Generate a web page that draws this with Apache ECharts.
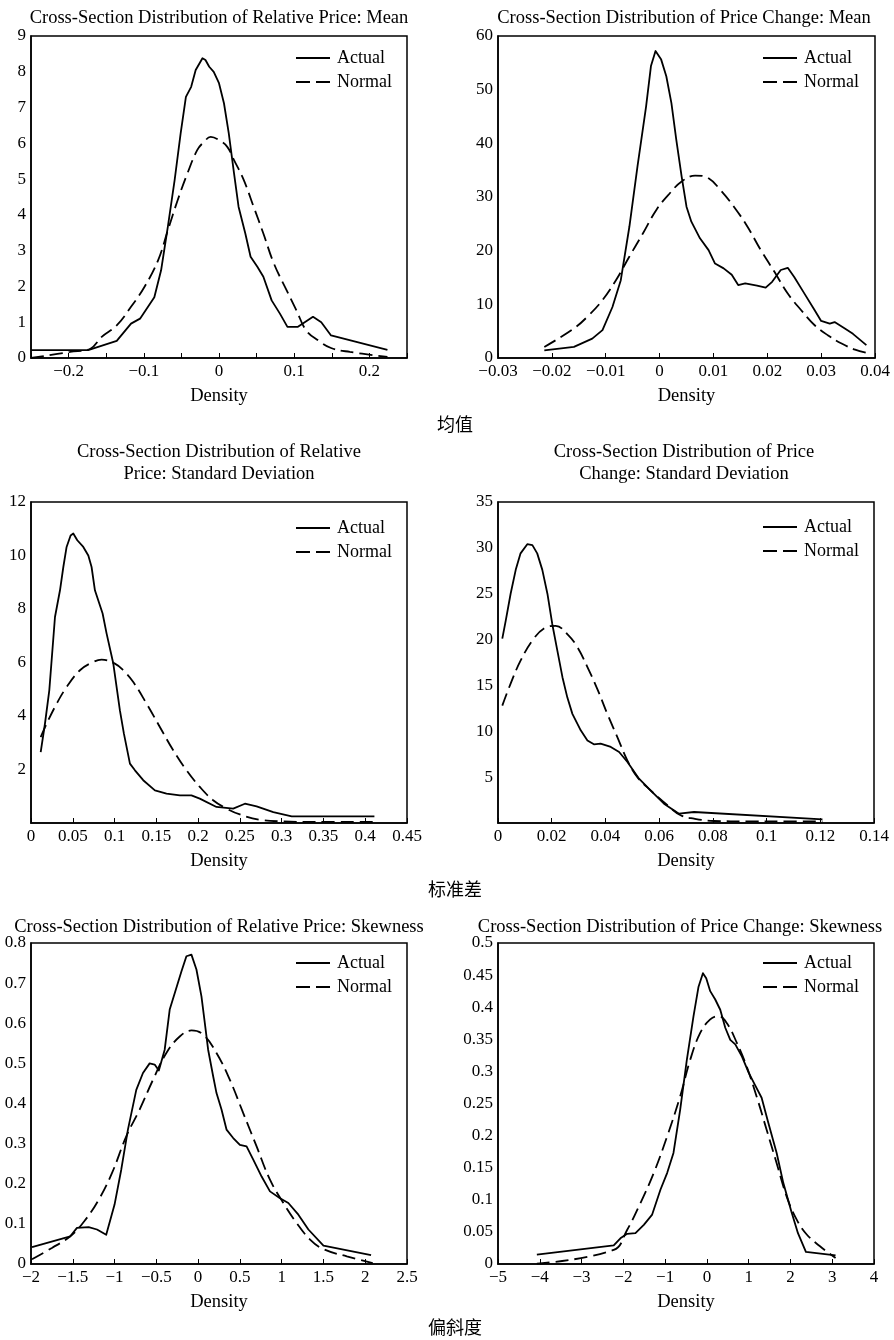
<!DOCTYPE html>
<html><head><meta charset="utf-8">
<script src="https://cdn.jsdelivr.net/npm/echarts@6/dist/echarts.min.js"></script>
<style>html,body{margin:0;padding:0;background:#fff}#c{width:894px;height:1340px}</style>
</head><body><div id="c"></div>
<script>
// ---------- Data (x, density) ----------
const relMeanActual = [[-0.25,0.22],[-0.174,0.22],[-0.136,0.48],[-0.117,0.96],[-0.105,1.1],[-0.086,1.7],[-0.077,2.45],[-0.068,3.67],[-0.059,4.97],[-0.051,6.28],[-0.044,7.3],[-0.037,7.58],[-0.031,8.05],[-0.022,8.38],[-0.018,8.33],[-0.013,8.14],[-0.007,8.0],[0,7.68],[0.0066,7.12],[0.013,6.28],[0.020,5.16],[0.026,4.23],[0.035,3.48],[0.042,2.83],[0.051,2.55],[0.059,2.27],[0.070,1.61],[0.081,1.24],[0.091,0.87],[0.105,0.87],[0.125,1.15],[0.136,1.0],[0.149,0.63],[0.224,0.23]];
const relMeanNormal = [[-0.25,0],[-0.198,0.17],[-0.171,0.26],[-0.156,0.59],[-0.136,0.91],[-0.117,1.43],[-0.099,1.99],[-0.081,2.73],[-0.068,3.57],[-0.055,4.41],[-0.042,5.16],[-0.029,5.81],[-0.020,6.04],[-0.011,6.18],[0,6.09],[0.011,5.9],[0.020,5.53],[0.033,4.97],[0.046,4.23],[0.059,3.48],[0.073,2.64],[0.090,1.89],[0.103,1.33],[0.116,0.77],[0.132,0.49],[0.149,0.28],[0.174,0.17],[0.224,0.03]];

const chgMeanActual = [[-0.0214,1.43],[-0.0159,2.06],[-0.0125,3.6],[-0.0106,5.2],[-0.00875,9.5],[-0.0072,14.5],[-0.0056,24.5],[-0.0041,35.7],[-0.0025,46.9],[-0.0016,54.4],[-0.00075,57.2],[0.0003,55.6],[0.00125,52.5],[0.0022,47.5],[0.0031,40.7],[0.0041,33.8],[0.005,28.2],[0.0059,25.4],[0.0075,22.3],[0.0091,20.1],[0.0103,17.6],[0.0119,16.7],[0.0134,15.5],[0.0146,13.6],[0.0159,13.9],[0.0181,13.5],[0.0197,13.1],[0.0209,14.2],[0.0225,16.4],[0.0238,16.8],[0.025,15.1],[0.0269,12.0],[0.0288,8.9],[0.030,6.9],[0.0316,6.4],[0.0325,6.7],[0.0344,5.5],[0.0359,4.5],[0.0384,2.4]];
const chgMeanNormal = [[-0.0214,2.06],[-0.0159,5.5],[-0.0131,8.0],[-0.0106,10.8],[-0.0081,14.5],[-0.0056,18.9],[-0.0031,23.2],[-0.0006,27.6],[0.0019,30.7],[0.0041,32.9],[0.0066,34.0],[0.0091,33.5],[0.0113,31.3],[0.0138,28.2],[0.0163,24.5],[0.0188,20.1],[0.0213,16.1],[0.0238,12.0],[0.0263,8.9],[0.0288,6.1],[0.0313,4.2],[0.0338,2.7],[0.0363,1.56],[0.0386,0.93]];

const relSdActual = [[0.0116,2.65],[0.0167,3.71],[0.0219,4.96],[0.0287,7.70],[0.0347,8.70],[0.0387,9.57],[0.0426,10.32],[0.0474,10.75],[0.0506,10.82],[0.0554,10.57],[0.0626,10.32],[0.0686,10.0],[0.0725,9.57],[0.0765,8.70],[0.0857,7.83],[0.0905,7.08],[0.0985,5.96],[0.1064,4.21],[0.1112,3.34],[0.1184,2.22],[0.1244,1.97],[0.1343,1.60],[0.1483,1.22],[0.1622,1.10],[0.1782,1.03],[0.192,1.03],[0.202,0.91],[0.222,0.60],[0.242,0.54],[0.256,0.72],[0.270,0.62],[0.290,0.41],[0.312,0.25],[0.411,0.25]];
const relSdNormal = [[0.0116,3.21],[0.0187,3.71],[0.0307,4.46],[0.0426,5.08],[0.0586,5.71],[0.0745,6.02],[0.0845,6.11],[0.1004,5.96],[0.1104,5.71],[0.1224,5.27],[0.1383,4.46],[0.1542,3.59],[0.1702,2.72],[0.1861,1.97],[0.202,1.35],[0.218,0.85],[0.234,0.54],[0.25,0.32],[0.274,0.12],[0.302,0.06],[0.342,0.04],[0.411,0.04]];

const chgSdActual = [[0.0016,20.1],[0.0029,22.1],[0.0047,25.0],[0.0066,27.6],[0.0084,29.4],[0.0109,30.4],[0.0128,30.3],[0.0146,29.4],[0.0165,27.6],[0.0184,25.0],[0.0202,21.7],[0.0221,18.8],[0.024,15.9],[0.0258,13.7],[0.0277,11.9],[0.0308,10.1],[0.0333,9.0],[0.0357,8.58],[0.0382,8.65],[0.042,8.29],[0.0451,7.74],[0.0482,6.65],[0.0525,4.83],[0.0568,3.56],[0.0618,2.11],[0.0674,1.02],[0.073,1.2],[0.1208,0.4]];
const chgSdNormal = [[0.0016,12.8],[0.0047,15.2],[0.0084,17.7],[0.0128,19.9],[0.0171,21.2],[0.0215,21.5],[0.0258,20.6],[0.0295,19.2],[0.0333,17.0],[0.037,14.6],[0.0407,11.9],[0.0444,9.4],[0.0482,6.8],[0.0519,5.0],[0.0568,3.56],[0.0631,1.93],[0.068,0.84],[0.073,0.47],[0.0804,0.22],[0.0928,0.18],[0.1052,0.18],[0.1208,0.18]];

const relSkActual = [[-1.988,0.042],[-1.53,0.069],[-1.45,0.090],[-1.31,0.092],[-1.21,0.086],[-1.10,0.073],[-1.0,0.148],[-0.92,0.235],[-0.84,0.335],[-0.74,0.434],[-0.66,0.476],[-0.58,0.50],[-0.52,0.497],[-0.47,0.482],[-0.40,0.534],[-0.34,0.634],[-0.28,0.675],[-0.20,0.729],[-0.14,0.767],[-0.08,0.771],[-0.02,0.734],[0.04,0.667],[0.08,0.601],[0.12,0.534],[0.18,0.468],[0.22,0.426],[0.28,0.385],[0.34,0.335],[0.42,0.314],[0.50,0.297],[0.58,0.293],[0.66,0.26],[0.76,0.218],[0.86,0.181],[0.98,0.164],[1.08,0.152],[1.20,0.123],[1.32,0.086],[1.50,0.046],[2.07,0.022]];
const relSkNormal = [[-1.988,0.012],[-1.75,0.040],[-1.53,0.069],[-1.35,0.11],[-1.19,0.16],[-1.03,0.227],[-0.86,0.318],[-0.70,0.385],[-0.54,0.459],[-0.38,0.526],[-0.22,0.567],[-0.08,0.582],[0.06,0.572],[0.22,0.526],[0.38,0.459],[0.54,0.376],[0.70,0.293],[0.86,0.21],[1.02,0.152],[1.18,0.102],[1.34,0.061],[1.50,0.037],[1.78,0.019],[2.09,0.002]];

const chgSkActual = [[-4.07,0.0145],[-2.23,0.029],[-2.07,0.040],[-1.91,0.047],[-1.71,0.048],[-1.51,0.061],[-1.31,0.077],[-1.11,0.116],[-0.95,0.142],[-0.80,0.173],[-0.64,0.24],[-0.48,0.318],[-0.32,0.386],[-0.20,0.432],[-0.095,0.453],[-0.016,0.445],[0.08,0.425],[0.20,0.412],[0.32,0.396],[0.44,0.368],[0.56,0.349],[0.68,0.342],[0.84,0.323],[1.0,0.298],[1.15,0.279],[1.31,0.259],[1.47,0.22],[1.67,0.173],[1.83,0.126],[2.02,0.082],[2.18,0.048],[2.37,0.019],[3.08,0.0135]];
const chgSkNormal = [[-4.07,0.0005],[-2.23,0.022],[-1.91,0.053],[-1.59,0.095],[-1.27,0.142],[-0.95,0.199],[-0.64,0.261],[-0.40,0.318],[-0.16,0.36],[0.08,0.381],[0.28,0.386],[0.48,0.375],[0.72,0.344],[0.95,0.308],[1.19,0.261],[1.43,0.209],[1.67,0.157],[1.91,0.105],[2.15,0.069],[2.39,0.046],[2.70,0.028],[3.08,0.0093]];

const panelTitles = [
  'Cross-Section Distribution of Relative Price: Mean',
  'Cross-Section Distribution of Price Change: Mean',
  'Cross-Section Distribution of Relative\nPrice: Standard Deviation',
  'Cross-Section Distribution of Price\nChange: Standard Deviation',
  'Cross-Section Distribution of Relative Price: Skewness',
  'Cross-Section Distribution of Price Change: Skewness'
];
const rowCaptions = ['均值', '标准差', '偏斜度'];
const xName = 'Density';
const legendNames = ['Actual', 'Normal'];

// ---------- Layout ----------
const SERIF = '"Liberation Serif","DejaVu Serif",serif';
const panels = [
  {grid:[31,36,376,322], x:[-0.25,0.25,0.05,0.1], y:[0,9,1,true], title:[219,18], lg:[296,49], a:relMeanActual, n:relMeanNormal},
  {grid:[498,36,377,322], x:[-0.03,0.04,0.01,0.01], y:[0,60,10,true], title:[684,18], lg:[763,49], a:chgMeanActual, n:chgMeanNormal},
  {grid:[31,502,376,321], x:[0,0.45,0.05,0.05], y:[0,12,2,false], title:[219,474], lg:[296,519], a:relSdActual, n:relSdNormal},
  {grid:[498,502,376,321], x:[0,0.14,0.02,0.02], y:[0,35,5,false], title:[684,474], lg:[763,518], a:chgSdActual, n:chgSdNormal},
  {grid:[31,943,376,321], x:[-2,2.5,0.5,0.5], y:[0,0.8,0.1,true], title:[219,927], lg:[296,954], a:relSkActual, n:relSkNormal},
  {grid:[498,943,376,321], x:[-5,4,1,1], y:[0,0.5,0.05,true], title:[680,927], lg:[763,954], a:chgSkActual, n:chgSkNormal}
];

const ICON_SOLID = 'path://M0,0H34V2H0Z';
const ICON_DASH = 'path://M0,0H14V2H0Z M20,0H34V2H20Z';

function fmtNum(v){
  let s = String(+v.toFixed(6));
  return s.replace('-', '\u2212');
}

const grid = [], xAxis = [], yAxis = [], series = [], legend = [], graphic = [];
panels.forEach((p, i) => {
  grid.push({left:p.grid[0], top:p.grid[1], width:p.grid[2], height:p.grid[3],
    show:true, borderColor:'#000', borderWidth:1.5, backgroundColor:'transparent'});
  const step = p.x[3];
  xAxis.push({type:'value', gridIndex:i, min:p.x[0], max:p.x[1], interval:p.x[2],
    name:xName, nameLocation:'middle', nameGap:29,
    nameTextStyle:{fontFamily:SERIF, fontSize:18.5, color:'#000'},
    axisLine:{show:true, onZero:false, lineStyle:{color:'#000', width:1.5}},
    axisTick:{show:true, inside:true, length:5, lineStyle:{color:'#000', width:1}},
    splitLine:{show:false},
    axisLabel:{fontFamily:SERIF, fontSize:17, color:'#000', margin:5, showMinLabel:true, showMaxLabel:true,
      formatter:(v)=>{ const r=v/step; return Math.abs(r-Math.round(r))<1e-6 ? fmtNum(v) : ''; }}
  });
  const showZero = p.y[3];
  yAxis.push({type:'value', gridIndex:i, min:p.y[0], max:p.y[1], interval:p.y[2],
    axisLine:{show:true, onZero:false, lineStyle:{color:'#000', width:1.5}},
    axisTick:{show:false}, splitLine:{show:false},
    axisLabel:{fontFamily:SERIF, fontSize:17, color:'#000', margin:5, showMinLabel:true, showMaxLabel:true,
      formatter:(v)=> (!showZero && Math.abs(v)<1e-9) ? '' : fmtNum(v)}
  });
  series.push({type:'line', name:legendNames[0], xAxisIndex:i, yAxisIndex:i, data:p.a,
    symbol:'none', smooth:false, lineStyle:{color:'#000', width:1.8, type:'solid', join:'round'}, itemStyle:{color:'#000'}, z:3});
  series.push({type:'line', name:legendNames[1], xAxisIndex:i, yAxisIndex:i, data:p.n,
    symbol:'none', smooth:0.4, lineStyle:{color:'#000', width:1.8, type:[13,6]}, itemStyle:{color:'#000'}, z:2});
  legend.push({orient:'vertical', left:p.lg[0], top:p.lg[1], padding:0, itemGap:6,
    itemWidth:34, itemHeight:2,
    data:[{name:legendNames[0], icon:ICON_SOLID}, {name:legendNames[1], icon:ICON_DASH}],
    selectedMode:false, itemStyle:{color:'#000', borderWidth:0},
    textStyle:{fontFamily:SERIF, fontSize:18, color:'#000', padding:[0,0,0,2]}});
  const lines = panelTitles[i].split('\n');
  graphic.push({type:'text', x:p.title[0], y:p.title[1] - (lines.length-1)*11,
    style:{text:panelTitles[i], fill:'#000', font:'18.5px '+SERIF, align:'center', verticalAlign:'middle', lineHeight:22}});
});
const capY = [424, 889, 1327];
rowCaptions.forEach((t, k) => {
  graphic.push({type:'text', x:455, y:capY[k],
    style:{text:t, fill:'#000', font:'18px "Noto Sans CJK SC", sans-serif', align:'center', verticalAlign:'middle'}});
});

const chart = echarts.init(document.getElementById('c'), null, {renderer:'canvas'});
chart.setOption({backgroundColor:'#fff', animation:false, grid, xAxis, yAxis, series, legend, graphic});
</script>
</body></html>
